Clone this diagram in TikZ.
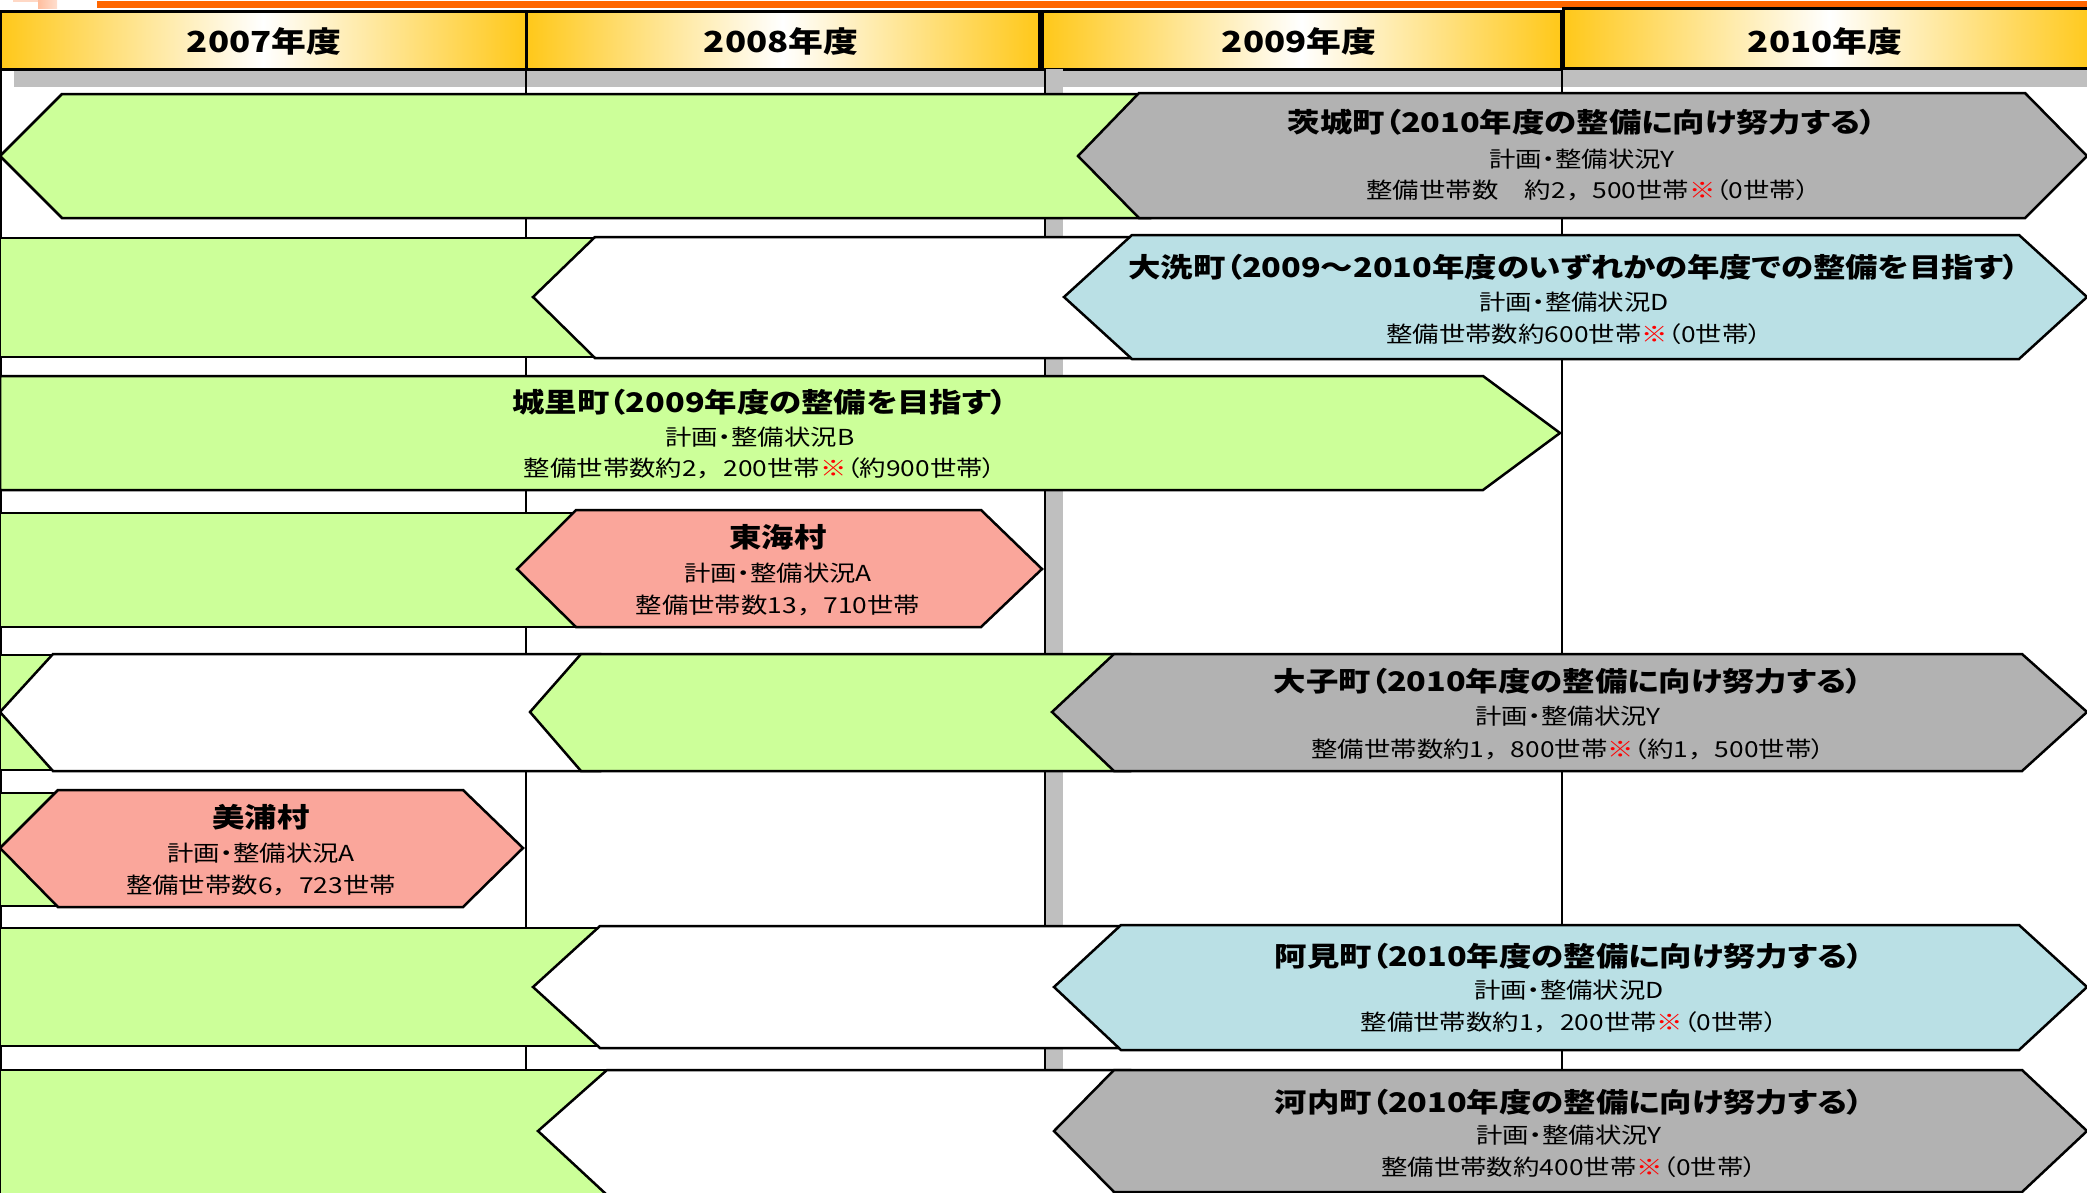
\documentclass[tikz,border=0pt]{standalone}
\usepackage{fontspec}
\setmainfont{Noto Sans CJK JP}[FakeStretch=1.2,RawFeature=+palt]
\newfontfamily\jpfw{Noto Sans CJK JP}[FakeStretch=1.2]
\definecolor{grn}{HTML}{CCFF99}
\definecolor{gry}{HTML}{B2B2B2}
\definecolor{blu}{HTML}{BAE0E5}
\definecolor{pnk}{HTML}{FAA69B}
\definecolor{gold}{HTML}{FFC819}
\definecolor{org}{HTML}{FF6600}
\definecolor{peach}{HTML}{FFBE9E}
\definecolor{shd}{HTML}{BFBFBF}
\newcommand{\kome}{\textcolor{red}{\bfseries ※}}
\newcommand{\fwc}{{\jpfw ，}}
\tikzset{
  shp/.style={draw=black, line width=2.5pt, line join=miter},
  hdbox/.style={draw=black, line width=3pt, left color=gold, right color=gold, middle color=white},
  vline/.style={draw=black, line width=2.5pt},
  ttl/.style={font=\fontsize{27}{32}\selectfont\bfseries, inner sep=0pt},
  sub/.style={font=\fontsize{22}{26}\selectfont, inner sep=0pt},
  hd/.style={font=\fontsize{29}{34}\selectfont\bfseries, inner sep=0pt}
}
\begin{document}
\begin{tikzpicture}[x=1pt,y=-1pt]
\useasboundingbox (0,0) rectangle (2087,1192);
% top decoration
\fill[peach!60] (13,0) rectangle (38,2);
\shade[left color=peach, right color=peach!50] (38,0) rectangle (57,8);
\fill[org] (97,1) rectangle (2087,8);
% header shadow band
\fill[shd] (14,60) rectangle (2087,87);
% header boxes
\path[hdbox] (0,11) rectangle (526,69);
\path[hdbox] (526,11) rectangle (1039,69);
\path[hdbox] (1042,11) rectangle (1561,69);
\path[hdbox] (1563,8) rectangle (2095,68);
\node[hd] (h07) at (264,41) {2007年度};
\node[hd] (h08) at (781,41) {2008年度};
\node[hd] (h09) at (1299,41) {2009年度};
\node[hd] (h10) at (1825,41) {2010年度};
% vertical grid
\fill[shd] (1045,69) rectangle (1063,1192);
\draw[black, line width=1.5pt] (1045,69) -- (1045,1192);
\draw[vline] (1,69) -- (1,1192);
\draw[vline] (526,69) -- (526,1192);
\draw[vline] (1562,69) -- (1562,1192);
% row 1
\path[shp, fill=grn] (0,156) -- (62,94) -- (1150,94) -- (1150,218) -- (62,218) -- cycle;
\path[shp, fill=gry] (1078,156) -- (1139,93) -- (2025,93) -- (2087,156) -- (2025,218) -- (1139,218) -- cycle;
% row 2
\path[shp, fill=grn] (0,238) rectangle (610,357);
\path[shp, fill=white] (533,297) -- (595,237) -- (1145,237) -- (1145,358) -- (595,358) -- cycle;
\path[shp, fill=blu] (1064,297) -- (1132,235) -- (2019,235) -- (2087,297) -- (2019,359) -- (1132,359) -- cycle;
% row 3
\path[shp, fill=grn] (0,376) -- (1483,376) -- (1560,433) -- (1483,490) -- (0,490) -- cycle;
% row 4
\path[shp, fill=grn] (0,513) rectangle (590,627);
\path[shp, fill=pnk] (517,569) -- (576,510) -- (981,510) -- (1042,569) -- (981,627) -- (576,627) -- cycle;
% row 5
\path[shp, fill=grn] (0,655) rectangle (70,770);
\path[shp, fill=white] (0,712) -- (53,654) -- (600,654) -- (600,771) -- (53,771) -- cycle;
\path[shp, fill=grn] (530,712) -- (581,654) -- (1130,654) -- (1130,771) -- (581,771) -- cycle;
\path[shp, fill=gry] (1052,712) -- (1114,654) -- (2022,654) -- (2087,712) -- (2022,771) -- (1114,771) -- cycle;
% row 6
\path[shp, fill=grn] (0,793) rectangle (70,906);
\path[shp, fill=pnk] (0,848) -- (58,790) -- (463,790) -- (523,848) -- (463,907) -- (58,907) -- cycle;
% row 7
\path[shp, fill=grn] (0,928) rectangle (615,1046);
\path[shp, fill=white] (533,987) -- (600,926) -- (1135,926) -- (1135,1048) -- (600,1048) -- cycle;
\path[shp, fill=blu] (1054,987) -- (1121,925) -- (2019,925) -- (2087,987) -- (2019,1050) -- (1121,1050) -- cycle;
% row 8
\path[shp, fill=grn] (0,1070) rectangle (620,1195);
\path[shp, fill=white] (538,1131) -- (607,1070) -- (1130,1070) -- (1130,1195) -- (607,1195) -- cycle;
\path[shp, fill=gry] (1054,1131) -- (1114,1070) -- (2022,1070) -- (2087,1131) -- (2022,1192) -- (1114,1192) -- cycle;
% texts
\node[ttl] (r1t) at (1582,122) {茨城町（2010年度の整備に向け努力する）};
\node[sub] (r1a) at (1582,159) {計画・整備状況Y};
\node[sub] (r1b) at (1588,190) {整備世帯数　約2\fwc 500世帯\kome（0世帯）};
\node[ttl] (r2t) at (1574,267) {大洗町（2009～2010年度のいずれかの年度での整備を目指す）};
\node[sub] (r2a) at (1574,302) {計画・整備状況D};
\node[sub] (r2b) at (1574,334) {整備世帯数約600世帯\kome（0世帯）};
\node[ttl] (r3t) at (760,402) {城里町（2009年度の整備を目指す）};
\node[sub] (r3a) at (760,437) {計画・整備状況B};
\node[sub] (r3b) at (760,468) {整備世帯数約2\fwc 200世帯\kome（約900世帯）};
\node[ttl] (r4t) at (778,537) {東海村};
\node[sub] (r4a) at (778,573) {計画・整備状況A};
\node[sub] (r4b) at (778,605) {整備世帯数13\fwc 710世帯};
\node[ttl] (r5t) at (1568,681) {大子町（2010年度の整備に向け努力する）};
\node[sub] (r5a) at (1568,716) {計画・整備状況Y};
\node[sub] (r5b) at (1568,749) {整備世帯数約1\fwc 800世帯\kome（約1\fwc 500世帯）};
\node[ttl] (r6t) at (261,817) {美浦村};
\node[sub] (r6a) at (261,853) {計画・整備状況A};
\node[sub] (r6b) at (261,885) {整備世帯数6\fwc 723世帯};
\node[ttl] (r7t) at (1569,956) {阿見町（2010年度の整備に向け努力する）};
\node[sub] (r7a) at (1569,990) {計画・整備状況D};
\node[sub] (r7b) at (1569,1022) {整備世帯数約1\fwc 200世帯\kome（0世帯）};
\node[ttl] (r8t) at (1569,1102) {河内町（2010年度の整備に向け努力する）};
\node[sub] (r8a) at (1569,1135) {計画・整備状況Y};
\node[sub] (r8b) at (1569,1167) {整備世帯数約400世帯\kome（0世帯）};
\end{tikzpicture}
\end{document}
